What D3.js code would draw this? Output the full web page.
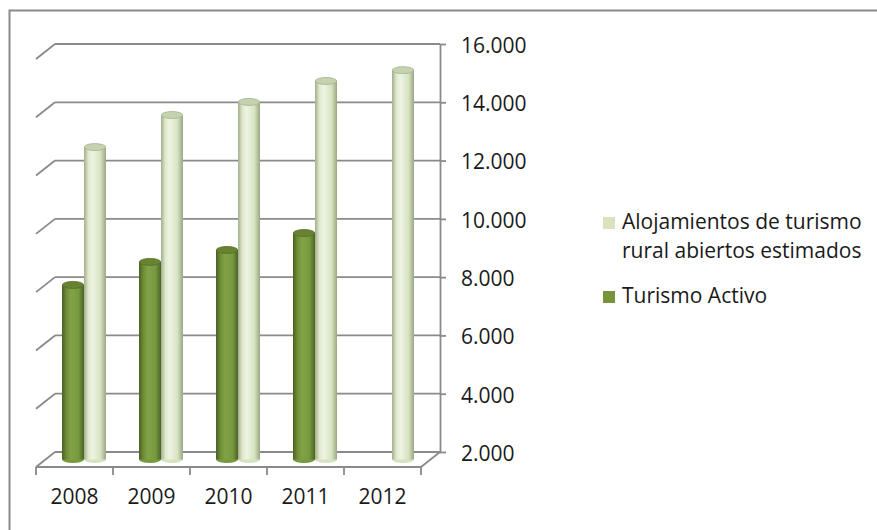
<!DOCTYPE html>
<html>
<meta charset="utf-8">
<style>
body { margin: 0; background: #fff; }
text { font-family: "Open Sans", Lato, sans-serif; fill: #1a1a1a; }
.grid line { stroke: #8a8a8a; stroke-width: 1.8px; }
.axis path, .axis line { stroke: #8a8a8a; stroke-width: 1.8px; }
</style>
<body>
<script src="https://cdn.jsdelivr.net/npm/d3@7"></script>
<script>

var years = ["2008", "2009", "2010", "2011", "2012"];
var alojamientos = [12720, 13820, 14270, 14990, 15360];
var turismoActivo = [7990, 8780, 9190, 9770, null];
var yTicks = [2000, 4000, 6000, 8000, 10000, 12000, 14000, 16000];
var seriesKeys = ["activo", "aloj"];
var legendLabels = [["Alojamientos de turismo", "rural abiertos estimados"], ["Turismo Activo"]];

var W = 877, H = 530;
var DX = 19, DY = 15; // depth of the 3d floor (back -> front)

var svg = d3.select("body").append("svg").attr("width", W).attr("height", H);

// chart frame
svg.append("rect")
  .attr("x", 9.5).attr("y", 10.5).attr("width", W + 20).attr("height", H + 20)
  .attr("fill", "none").attr("stroke", "#8a8a8a").attr("stroke-width", 2);

var y = d3.scaleLinear().domain([2000, 16000]).range([452, 44]);
var x0 = d3.scaleBand().domain(years).range([36, 421]);
var x1 = d3.scaleBand().domain(seriesKeys).range([0, x0.bandwidth()]).paddingOuter(0.75);

var fmt = d3.formatLocale({decimal: ",", thousands: ".", grouping: [3], currency: ["", ""]}).format(",.0f");

var backL = x0.range()[0] + DX, backR = x0.range()[1] + DX;

// back wall gridlines + left side depth lines
var grid = svg.append("g").attr("class", "grid");
grid.selectAll(".h").data(yTicks).join("line").attr("class", "h")
  .attr("x1", backL).attr("x2", backR)
  .attr("y1", d => y(d)).attr("y2", d => y(d));
grid.selectAll(".d").data(yTicks).join("line").attr("class", "d")
  .attr("x1", backL).attr("x2", backL - DX)
  .attr("y1", d => y(d)).attr("y2", d => y(d) + DY);

// floor: right depth edge + front edge
var floorY = y(2000) + DY;
grid.append("line").attr("x1", backR).attr("y1", y(2000)).attr("x2", backR - DX).attr("y2", floorY);
grid.append("line").attr("x1", x0.range()[0]).attr("x2", x0.range()[1]).attr("y1", floorY).attr("y2", floorY);
var bounds = years.map(d => x0(d)).concat([x0.range()[1]]);
grid.selectAll(".t").data(bounds).join("line").attr("class", "t")
  .attr("x1", d => d).attr("x2", d => d)
  .attr("y1", floorY).attr("y2", floorY + 8);

// right value axis
svg.append("g").attr("class", "axis")
  .attr("transform", "translate(" + backR + ",0)")
  .call(d3.axisRight(y).tickValues(yTicks).tickFormat(fmt).tickSize(6).tickSizeOuter(0).tickPadding(15))
  .call(g => g.selectAll("text").style("font-size", "21px").attr("dy", "0.4em").attr("fill", "#1a1a1a"));

// category labels
svg.append("g").attr("class", "axis")
  .attr("transform", "translate(0," + floorY + ")")
  .call(d3.axisBottom(x0).tickSize(0).tickPadding(22))
  .call(g => g.select(".domain").remove())
  .call(g => g.selectAll("text").style("font-size", "21px").attr("fill", "#1a1a1a"));

// cylinder gradients
var defs = svg.append("defs");
var palettes = {
  activo: {stops: ["#4a6023", "#6f8d37", "#82a246", "#779a3e", "#4c6425"], top: "#67832f", topStroke: "#55702a"},
  aloj: {stops: ["#a1ae8c", "#dfe9cd", "#eef4e3", "#d6e3c0", "#9aa685"], top: "#c4d2ae", topStroke: "#a6b391"}
};
Object.keys(palettes).forEach(function(k) {
  var g = defs.append("linearGradient").attr("id", "grad-" + k).attr("x1", "0").attr("x2", "1").attr("y1", "0").attr("y2", "0");
  var offs = [0, 0.2, 0.4, 0.75, 1];
  palettes[k].stops.forEach((c, i) => g.append("stop").attr("offset", offs[i]).attr("stop-color", c));
});

var bars = [];
years.forEach(function(yr, i) {
  if (turismoActivo[i] != null) bars.push({year: yr, key: "activo", value: turismoActivo[i]});
  bars.push({year: yr, key: "aloj", value: alojamientos[i]});
});

var rx = x1.bandwidth() / 2, ry = 3.5;
var base = y(2000) + DY / 2;
var cyl = svg.append("g").selectAll("g").data(bars).join("g")
  .attr("transform", d => "translate(" + (x0(d.year) + DX / 2 + x1(d.key)) + ",0)");
cyl.append("ellipse").attr("cx", rx).attr("cy", base).attr("rx", rx).attr("ry", ry)
  .attr("fill", d => palettes[d.key].stops[3]);
cyl.append("rect").attr("x", 0).attr("width", x1.bandwidth())
  .attr("y", d => y(d.value) + DY / 2).attr("height", d => base - y(d.value) - DY / 2)
  .attr("fill", d => "url(#grad-" + d.key + ")");
cyl.append("ellipse").attr("cx", rx).attr("cy", d => y(d.value) + DY / 2).attr("rx", rx - 0.3).attr("ry", ry)
  .attr("fill", d => palettes[d.key].top).attr("stroke", d => palettes[d.key].topStroke).attr("stroke-width", 0.8);

// legend
var legend = svg.append("g");
var legendColors = ["#d7e4bd", "#77933c"];
var legendY = [217, 291];
legendLabels.forEach(function(lines, i) {
  legend.append("rect").attr("x", 603).attr("y", legendY[i]).attr("width", 12).attr("height", 12).attr("fill", legendColors[i]);
  lines.forEach(function(t, j) {
    legend.append("text").attr("x", 622).attr("y", legendY[i] + 12 + j * 29)
      .style("font-size", "21px").text(t);
  });
});

</script>
</body>
</html>
